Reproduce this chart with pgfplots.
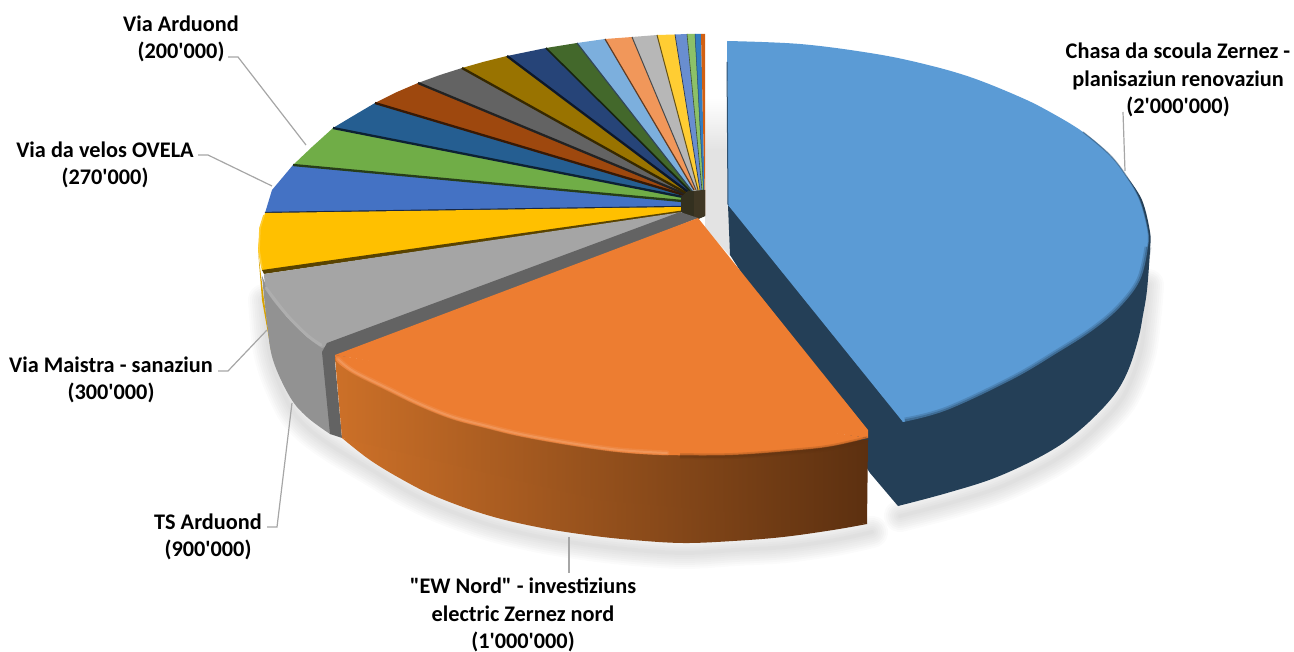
\documentclass[border=0pt]{standalone}
\usepackage{fontspec}
\newfontfamily\lblfont{Carlito}
\usepackage{pgfplots}
\pgfplotsset{compat=1.18}

% top faces
\definecolor{sBlue}{HTML}{5B9BD5}
\definecolor{sBlueDark}{HTML}{243F57}
\definecolor{sOrange}{HTML}{ED7D31}
\definecolor{sGrey}{HTML}{A5A5A5}
\definecolor{sGreySide}{HTML}{929292}
\definecolor{sGreyCut}{HTML}{636363}
\definecolor{sYellow}{HTML}{FFC000}
\definecolor{sRoyal}{HTML}{4472C4}
\definecolor{sGreen}{HTML}{70AD47}
\definecolor{sTeal}{HTML}{255E91}
\definecolor{sBrown}{HTML}{9E480E}
\definecolor{sDGrey}{HTML}{636363}
\definecolor{sGold}{HTML}{997300}
\definecolor{sNavy}{HTML}{264478}
\definecolor{sDGreen}{HTML}{43682B}
\definecolor{sLBlue}{HTML}{7CAFDD}
\definecolor{sLOrange}{HTML}{F1975A}
\definecolor{sLGrey}{HTML}{B7B7B7}
\definecolor{sLYellow}{HTML}{FFCD33}
\definecolor{sLRoyal}{HTML}{698ED0}
\definecolor{sLGreen}{HTML}{8CC168}
\definecolor{sMBlue}{HTML}{327DC2}
\definecolor{sMOrange}{HTML}{D26012}
\definecolor{leader}{HTML}{A6A6A6}
\definecolor{seam}{HTML}{33301F}
\definecolor{seamB}{HTML}{3F3724}
\definecolor{sideL}{HTML}{CC7028}
\definecolor{sideR}{HTML}{5C3010}

\tikzset{
  lbl/.style={font=\lblfont\fontsize{22.3}{27.5}\selectfont\bfseries, align=center, anchor=center, text=black},
  shadowline/.style={draw=black!70, opacity=0.022, line join=round, line cap=round, smooth},
  rim/.style={draw=leader, line width=1.2pt},
  arc/.style={draw=none, smooth, tension=.6},
}

\begin{document}
\begin{tikzpicture}
\path[use as bounding box] (0,0) rectangle (1294pt,652pt);
\begin{axis}[
  at={(0,0)}, anchor=south west,
  scale only axis, width=1294pt, height=652pt,
  xmin=0, xmax=1294, ymin=0, ymax=652, y dir=reverse,
  hide axis, clip=false, no markers,
]
% soft shadow under the pie
\pgfplotsinvokeforeach{4,8,12,16,20,24,28,32}{
\addplot[shadowline, line width=#1pt, forget plot] coordinates {
(264,300) (268,345) (276,375) (292,410) (310,430) (335,448) (372,470) (405,490) (440,507) (490,525) (540,537) (590,545) (635,550) (685,553) (735,550) (785,547) (835,540) (872,532)};
\addplot[shadowline, line width=#1pt, forget plot] coordinates {
(900,516) (950,503) (1000,487) (1050,463) (1083,440) (1116,407) (1130,383) (1141,350) (1146,310) (1148,285)};
}
% shadow in the gap beside the big slice
\addplot[draw=none, top color=white, bottom color=black!11] coordinates {(705,98) (728,98) (728,150) (705,150)};
\addplot[fill=black!11, draw=none] coordinates {(705,150) (728,150) (730,256) (705,228)};

% Chasa da scoula Zernez
\addplot[fill=sBlueDark, arc] coordinates {
(1127,177) (1142,200) (1150,232) (1150,250) (1147,290) (1143,315) (1138,340) (1127,373) (1111,399) (1080,430) (1047,453) (997,477) (947,493) (898,506)};
\addplot[fill=sBlueDark, draw=none] coordinates {(728,205) (1127,177) (1000,440) (898,506) (870,473) (730,255)};
\addplot[fill=sBlue, arc] coordinates {
(727,41) (800,44) (870,53) (920,63) (970,77) (1020,97) (1050,112) (1083,132) (1110,155) (1127,177) (1140,200) (1148,230) (1148,247) (1140,280) (1120,307) (1093,330) (1057,353) (1013,379) (947,410) (903,422)};
\addplot[fill=sBlue, draw=none] coordinates {(727,41) (728,205) (903,422) (900,230)};
\addplot[draw=sBlueDark, opacity=.22, line width=7pt, smooth, tension=.6] coordinates {
(1148,247) (1140,280) (1120,307) (1093,330) (1057,353) (1013,379) (947,410) (905,421)};
\addplot[draw=sBlueDark, opacity=.35, line width=3.5pt, smooth, tension=.6] coordinates {
(1148,247) (1140,280) (1120,307) (1093,330) (1057,353) (1013,379) (947,410) (905,421)};
\addplot[draw=sBlueDark, opacity=.45, line width=1.3pt, smooth, tension=.6] coordinates {(1083,132) (1110,155) (1127,177) (1140,200) (1148,230) (1148,247)};
\addplot[draw=sBlueDark!80!sBlue, line width=1pt] coordinates {(727,62) (728,205)};

% the small slices, outer rim to inner corner
\addplot[fill=sRoyal, draw=none] coordinates {(265,213) (272,190) (293,165) (682,201) (682,207)};
\addplot[fill=sGreen, draw=none] coordinates {(293,165) (312,147) (333,128) (683,197) (682,201)};
\addplot[fill=sTeal, draw=none] coordinates {(333,128) (353,116) (375,103) (684,195) (683,197)};
\addplot[fill=sBrown, draw=none] coordinates {(375,103) (397,92) (418,83) (685,194) (684,195)};
\addplot[fill=sDGrey, draw=none] coordinates {(418,83) (440,75) (462,68) (686,193) (685,194)};
\addplot[fill=sGold, draw=none] coordinates {(462,68) (483,62) (507,56) (688,192) (686,193)};
\addplot[fill=sNavy, draw=none] coordinates {(507,56) (546,48) (690,191) (688,192)};
\addplot[fill=sDGreen, draw=none] coordinates {(546,48) (577,43) (692,191) (690,191)};
\addplot[fill=sLBlue, draw=none] coordinates {(577,43) (605,39) (694,190) (692,191)};
\addplot[fill=sLOrange, draw=none] coordinates {(605,39) (632,37) (696,190) (694,190)};
\addplot[fill=sLGrey, draw=none] coordinates {(632,37) (657,35) (698,190) (696,190)};
\addplot[fill=sLYellow, draw=none] coordinates {(657,35) (675,34.5) (700,190) (698,190)};
\addplot[fill=sLRoyal, draw=none] coordinates {(675,34.5) (687,34) (702,190) (700,190)};
\addplot[fill=sLGreen, draw=none] coordinates {(687,34) (695,34) (703.5,190) (702,190)};
\addplot[fill=sMBlue, draw=none] coordinates {(695,34) (701,34) (704.5,190) (703.5,190)};
\addplot[fill=sMOrange, draw=none] coordinates {(701,34) (705,34) (705,215) (704.5,190)};
% seams between them
\addplot[draw=sRoyal!35!black, line width=2.3pt] coordinates {(265,213) (682,207)};
\addplot[draw=sGreen!35!black, line width=2.3pt] coordinates {(293,165) (682,201)};
\addplot[draw=sTeal!35!black, line width=2.3pt] coordinates {(333,128) (683,197)};
\addplot[draw=sBrown!35!black, line width=2.3pt] coordinates {(375,103) (684,195)};
\addplot[draw=sDGrey!35!black, line width=2.3pt] coordinates {(418,83) (685,194)};
\addplot[draw=sGold!35!black, line width=2.3pt] coordinates {(462,68) (686,193)};
\addplot[draw=sNavy!35!black, line width=2.3pt] coordinates {(507,56) (688,192)};
\addplot[draw=sDGreen!35!black, line width=1.6pt] coordinates {(546,48) (690,191)};
\addplot[draw=sLBlue!40!black, line width=1.2pt] coordinates {(577,43) (692,191)};
\addplot[draw=sLOrange!40!black, line width=1.2pt] coordinates {(605,39) (694,190)};
\addplot[draw=sLGrey!40!black, line width=1pt] coordinates {(632,37) (696,190)};
\addplot[draw=sLYellow!40!black, line width=1pt] coordinates {(657,35) (698,190)};
\addplot[draw=sLRoyal!40!black, line width=.7pt] coordinates {(675,34.5) (700,190)};
\addplot[draw=sLGreen!40!black, line width=.6pt] coordinates {(687,34) (702,190)};
\addplot[draw=sMBlue!50!black, line width=.5pt] coordinates {(695,34) (703.5,190)};

% Yellow slice and its sliver of side
\addplot[fill=sYellow!85!black, draw=none] coordinates {(258,250) (262,300) (271,350) (264,300)};
\addplot[fill=sYellow, draw=none] coordinates {(265,213) (260,228) (258,250) (262,271) (682,212) (682,207)};
\addplot[draw=sYellow!80!white, line width=1.6pt] coordinates {(264,215) (260,228) (259,250) (262,268)};
\addplot[fill=sYellow!35!black, draw=none] coordinates {(262,270) (682,210.5) (682,213) (264,274)};

% dark hub where the slices meet
\addplot[fill=seam, draw=none] coordinates {(681,197) (688,191) (705,190) (705,216) (698,219) (681,213)};
\addplot[fill=seamB, draw=none] coordinates {(694,191) (705,190) (705,216) (698,219) (694,218)};

% TS Arduond
\addplot[fill=sGreySide, arc] coordinates {
(262,276) (267,323) (273,360) (290,397) (307,417) (330,434)};
\addplot[fill=sGreySide, draw=none] coordinates {(262,276) (285,370) (330,434) (340,434) (330,345) (307,337) (287,317) (268,293)};
\addplot[fill=sGrey, arc] coordinates {(264,274) (268,293) (287,317) (307,337) (322,348)};
\addplot[fill=sGrey, draw=none] coordinates {(264,274) (295,318) (322,348) (682,213) (682,212)};
\addplot[draw=black!30, opacity=.7, line width=3pt, line cap=round, smooth, tension=.6] coordinates {(266,288) (287,315) (307,335) (321,345)};
\addplot[fill=sGreyCut, draw=none] coordinates {
(327,343) (680,212) (698,218) (335,362) (342,438) (330,434) (322,352)};

% EW Nord
\addplot[left color=sideL, right color=sideR, arc] coordinates {
(342,438) (370,460) (403,480) (437,497) (487,515) (537,527) (587,535) (633,540) (683,543) (733,541) (783,537) (833,530) (867,524)};
\addplot[left color=sideL, right color=sideR, draw=none] coordinates {
(335,358) (342,438) (600,500) (867,524) (868,440) (733,445) (600,445)};
\addplot[fill=sOrange, arc] coordinates {
(868,438) (833,446) (800,450) (733,455) (667,455) (620,452) (570,445) (520,436) (487,428) (453,419) (420,406) (387,390) (353,373) (338,363) (335,355)};
\addplot[fill=sOrange, draw=none] coordinates {(698,218) (868,430) (868,438) (600,400) (335,355)};
\addplot[draw=sideR, opacity=.18, line width=6pt, smooth, tension=.6] coordinates {(868,439) (833,447) (800,451) (733,456) (680,456)};
\addplot[draw=sideR, opacity=.3, line width=3pt, smooth, tension=.6] coordinates {(868,439) (833,447) (800,451) (733,456) (680,456)};
\addplot[draw=sOrange!85!white, opacity=.5, line width=5pt, line cap=round, smooth, tension=.6] coordinates {
(338,359) (353,371) (387,388) (420,404) (453,417) (487,426) (520,434) (570,443) (620,450) (667,453)};
\addplot[draw=sOrange!75!white, opacity=.7, line width=2pt, line cap=round, smooth, tension=.6] coordinates {
(338,359) (353,371) (387,388) (420,404) (453,417) (487,426) (520,434) (570,443) (620,450) (667,453)};

% leader lines
\addplot[rim] coordinates {(228,57) (238,57) (306,145)};
\addplot[rim] coordinates {(198,155) (208,155) (272,186)};
\addplot[rim] coordinates {(218,371) (228,371) (267,330)};
\addplot[rim] coordinates {(267,527) (277,527) (292,403)};
\addplot[rim] coordinates {(569,537) (569,573)};
\addplot[rim] coordinates {(1123,112) (1125,171)};

% labels
\node[lbl] at (axis cs:1178,80) {Chasa da scoula Zernez -\\planisaziun renovaziun\\(2'000'000)};
\node[lbl] at (axis cs:181,39) {Via Arduond\\(200'000)};
\node[lbl] at (axis cs:105,165) {Via da velos OVELA\\(270'000)};
\node[lbl] at (axis cs:111,380) {Via Maistra - sanaziun\\(300'000)};
\node[lbl] at (axis cs:208,537) {TS Arduond\\(900'000)};
\node[lbl] at (axis cs:523,615) {"EW Nord" - investiziuns\\electric Zernez nord\\(1'000'000)};
\end{axis}
\end{tikzpicture}
\end{document}
